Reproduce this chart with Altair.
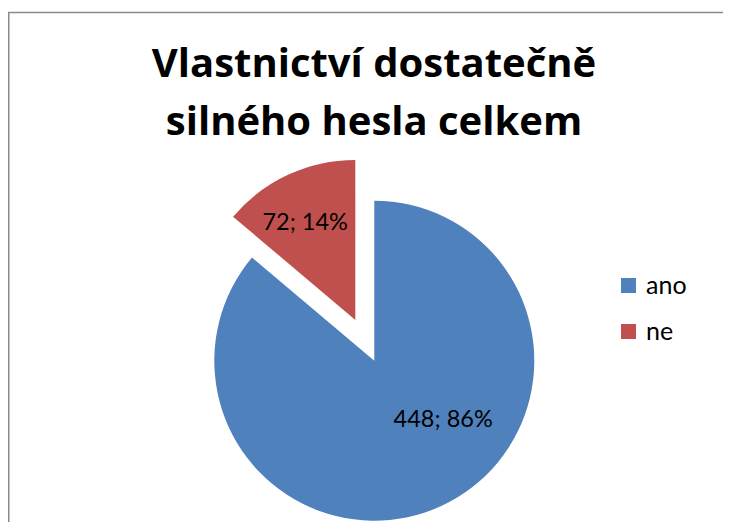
import altair as alt
import pandas as pd

categories = ["ano", "ne"]
counts = [448, 72]
percents = [86, 14]
colors = ["#4F81BD", "#C0504D"]
title_lines = ["Vlastnictví dostatečně", "silného hesla celkem"]

df = pd.DataFrame({
    "cat": categories,
    "count": counts,
    "pct": percents,
    "order": list(range(len(categories))),
})
df["label"] = [f"{c}; {p}%" for c, p in zip(counts, percents)]

title_df = pd.DataFrame({"line": title_lines, "idx": list(range(len(title_lines)))})

# layout (pixels, relative to chart origin at page (8, 8))
W, H = 715, 514
CX, CY = 366.3, 352.7
R = 160
EXPLODE = {"ne": 45}
LABEL_POS = {"ano": (91, 130.8), "ne": (109, 332.6)}  # radius px, angle deg
TITLE_X, TITLE_Y0, TITLE_LH = 366, 68.7, 58.3

explode_expr = " : ".join([f"datum.cat == '{k}' ? {v}" for k, v in EXPLODE.items()]) + " : 0"
lr_expr = "datum.cat == 'ano' ? %s : %s" % (LABEL_POS["ano"][0], LABEL_POS["ne"][0])
la_expr = "(datum.cat == 'ano' ? %s : %s) * PI / 180" % (LABEL_POS["ano"][1], LABEL_POS["ne"][1])

base = (
    alt.Chart(df)
    .transform_joinaggregate(total="sum(count)")
    .transform_window(cum="sum(count)", sort=[alt.SortField("order")], frame=[None, 0])
    .transform_calculate(
        start="2 * PI * (datum.cum - datum.count) / datum.total",
        end="2 * PI * datum.cum / datum.total",
    )
    .transform_calculate(mid="(datum.start + datum.end) / 2", ex=explode_expr)
    .transform_calculate(
        px=f"{CX} + datum.ex * sin(datum.mid)",
        py=f"{CY} - datum.ex * cos(datum.mid)",
        lr=lr_expr,
        la=la_expr,
    )
    .transform_calculate(
        tx="datum.px + datum.lr * sin(datum.la)",
        ty="datum.py - datum.lr * cos(datum.la)",
    )
)

color_scale = alt.Scale(domain=categories, range=colors)

arcs = base.mark_arc(radius=R).encode(
    theta=alt.Theta("start:Q", scale=None),
    theta2="end:Q",
    x=alt.X("px:Q", scale=None),
    y=alt.Y("py:Q", scale=None),
    color=alt.Color(
        "cat:N",
        scale=color_scale,
        sort=categories,
        legend=alt.Legend(
            title=None,
            orient="none",
            legendX=608,
            legendY=265,
            symbolType="square",
            symbolSize=225,
            symbolStrokeWidth=0,
            labelFont="Lato",
            labelFontSize=25,
            labelColor="#000000",
            labelOffset=5,
            rowPadding=20,
            padding=0,
        ),
    ),
)

texts = base.mark_text(font="Lato", fontSize=23.5, color="#000000", align="center", baseline="middle").encode(
    x=alt.X("tx:Q", scale=None),
    y=alt.Y("ty:Q", scale=None),
    text="label:N",
)

title = (
    alt.Chart(title_df)
    .transform_calculate(ty=f"{TITLE_Y0} + datum.idx * {TITLE_LH}")
    .mark_text(font="Open Sans", fontSize=40, fontWeight="bold", color="#000000", align="center", baseline="alphabetic")
    .encode(x=alt.value(TITLE_X), y=alt.Y("ty:Q", scale=None), text="line:N")
)

border_df = pd.DataFrame({"b": [0]})
left_line = alt.Chart(border_df).mark_rule(color="#8a8a8a", strokeWidth=1.5).encode(
    x=alt.value(0.75), y=alt.value(4.5), y2=alt.value(H)
)
top_line = alt.Chart(border_df).mark_rule(color="#8a8a8a", strokeWidth=1.5).encode(
    x=alt.value(0), x2=alt.value(W), y=alt.value(4.5)
)

chart = (
    alt.layer(left_line, top_line, arcs, texts, title)
    .properties(
        width=W,
        height=H,
        autosize=alt.AutoSizeParams(type="none"),
        padding={"left": 0, "top": 0, "right": 0, "bottom": 0},
        background="#ffffff",
    )
    .configure_view(strokeWidth=0)
)

chart.save("out.html", embed_options={"renderer": "svg", "actions": False})
